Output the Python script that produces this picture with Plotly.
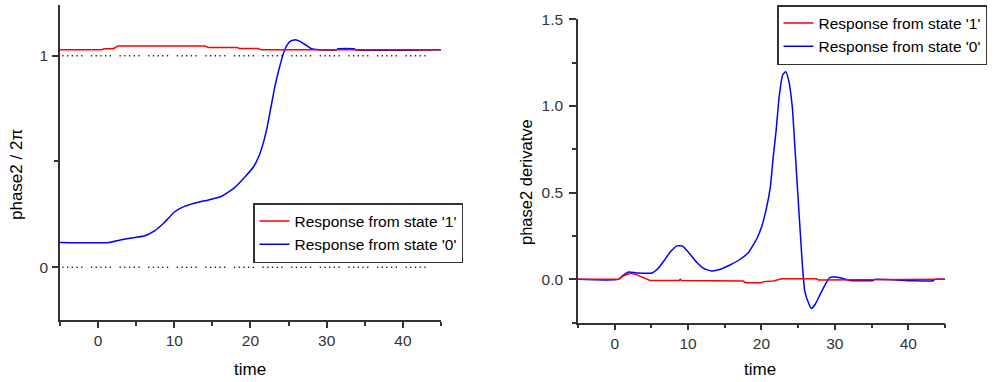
import plotly.graph_objects as go

# ---- data -------------------------------------------------------------
# phase2 / 2pi, response from state '1'
t_phase_1 = [-5, 0.4, 0.8, 2.0, 2.6, 14.0, 14.5, 18.2, 18.6, 21.0, 21.4, 45]
phase_1 = [1.028, 1.028, 1.033, 1.033, 1.046, 1.046, 1.039, 1.039, 1.034, 1.034, 1.028, 1.028]

# phase2 / 2pi, response from state '0'
t_phase_0 = [-5, 1.4, 3.9, 6.05, 7.4, 8.66, 10.05, 11.05, 12.6, 14.5, 16.06, 17.8,
             19.3, 20.4, 21.1, 21.7, 22.2, 22.7, 23.2, 23.7, 24.2, 24.7, 25.2,
             25.9, 26.5, 27.2, 28.0, 29.0, 31.3, 31.5, 33.6, 33.8, 45]
phase_0 = [0.117, 0.117, 0.136, 0.147, 0.171, 0.21, 0.262, 0.283, 0.302, 0.318, 0.333, 0.373,
           0.428, 0.475, 0.525, 0.59, 0.665, 0.76, 0.854, 0.93, 0.997, 1.044, 1.068,
           1.076, 1.068, 1.052, 1.033, 1.028, 1.028, 1.033, 1.033, 1.028, 1.028]

# reference levels (dotted) in the phase plot
ref_levels = [0, 1]
ref_span = [-4.7, 43.9]

# phase2 derivative, response from state '1'
t_deriv_1 = [-5, 0.5, 1.2, 2.1, 2.8, 3.8, 4.8, 8.8, 8.95, 9.1, 14.8, 15.0, 17.5, 17.8,
             20.0, 20.3, 21.6, 22.8, 27.5, 27.8, 29.0, 29.3, 45]
deriv_1 = [0, 0, 0.02, 0.035, 0.03, 0.012, -0.006, -0.006, 0.0, -0.006, -0.006, -0.01,
           -0.01, -0.019, -0.019, -0.013, -0.01, 0.003, 0.003, -0.004, -0.004, 0, 0]

# phase2 derivative, response from state '0'
t_deriv_0 = [-5, 0.5, 1.2, 1.9, 3.0, 5.1, 5.8, 6.7, 7.6, 8.5, 9.2, 10.1, 11.2, 12.1,
             13.2, 14.4, 15.7, 17.1, 18.2, 19.4, 20.0, 20.7, 21.2, 21.6, 22.0, 22.4,
             22.9, 23.3, 23.7, 24.2, 24.5, 24.9, 25.3, 25.6, 25.9, 26.4, 26.8, 27.3,
             28.0, 28.7, 29.3, 30.2, 31.2, 32.1, 35.2, 35.4, 40.5, 43.4, 43.6, 45]
deriv_0 = [0, 0, 0.025, 0.042, 0.037, 0.037, 0.058, 0.106, 0.16, 0.193, 0.193, 0.154,
           0.097, 0.064, 0.048, 0.058, 0.083, 0.116, 0.154, 0.237, 0.3, 0.415, 0.53,
           0.705, 0.86, 1.05, 1.18, 1.197, 1.149, 0.994, 0.80, 0.53, 0.26, 0.068,
           -0.068, -0.135, -0.168, -0.145, -0.087, -0.029, 0.01, 0.0135, 0.004, -0.006,
           -0.006, 0, -0.008, -0.008, 0, 0]

series_names = ["Response from state '1'", "Response from state '0'"]
series_colors = ["#ff0000", "#0000ff"]

# ---- figure -----------------------------------------------------------
FONT = "Arial, 'Liberation Sans', sans-serif"
AX = "#333333"

fig = go.Figure()

# left panel: phase2 / 2pi
for lvl in ref_levels:
    fig.add_trace(go.Scatter(
        x=ref_span, y=[lvl, lvl], mode="lines", showlegend=False, hoverinfo="skip",
        line=dict(color="#222222", width=1.5,
                  dash="1.3px,3.4px,1.3px,3.4px,1.3px,3.4px,1.3px,3.4px,1.3px,8.5px"),
        xaxis="x", yaxis="y"))

fig.add_trace(go.Scatter(
    x=t_phase_0, y=phase_0, mode="lines", name=series_names[1], legend="legend",
    legendrank=2, line=dict(color=series_colors[1], width=1.5, shape="spline",
                            smoothing=0.5),
    xaxis="x", yaxis="y"))
fig.add_trace(go.Scatter(
    x=t_phase_1, y=phase_1, mode="lines", name=series_names[0], legend="legend",
    legendrank=1, line=dict(color=series_colors[0], width=1.5),
    xaxis="x", yaxis="y"))

# right panel: phase2 derivative
fig.add_trace(go.Scatter(
    x=t_deriv_0, y=deriv_0, mode="lines", name=series_names[1], legend="legend2",
    legendrank=2, line=dict(color=series_colors[1], width=1.5, shape="spline",
                            smoothing=0.5),
    xaxis="x2", yaxis="y2"))
fig.add_trace(go.Scatter(
    x=t_deriv_1, y=deriv_1, mode="lines", name=series_names[0], legend="legend2",
    legendrank=1, line=dict(color=series_colors[0], width=1.5),
    xaxis="x2", yaxis="y2"))

common_axis = dict(
    showline=True, linecolor=AX, linewidth=1.5, showgrid=False, zeroline=False,
    ticks="outside", tickcolor=AX, tickwidth=1.5,
    tickfont=dict(family=FONT, size=15.5, color=AX),
)

legend_style = dict(xanchor="left", yanchor="top", bgcolor="white", bordercolor=AX,
                    borderwidth=1.5, font=dict(family=FONT, size=15.5, color="black"))

fig.update_layout(
    width=995, height=382,
    margin=dict(l=0, r=0, t=0, b=0, autoexpand=False),
    paper_bgcolor="white", plot_bgcolor="white",
    font=dict(family=FONT, size=15, color="black"),
    xaxis=dict(domain=[0.0603, 0.4432], range=[-5, 45], anchor="y",
               tick0=0, dtick=10, ticklen=6,
               minor=dict(dtick=5, tick0=0, ticks="outside", ticklen=4,
                          tickcolor=AX, tickwidth=1.5),
               **common_axis),
    yaxis=dict(domain=[0.1623, 0.9869], range=[-0.25, 1.24], anchor="x",
               tickmode="array", tickvals=[0, 1], ticktext=["0", "1"], ticklen=6,
               ticklabelstandoff=1,
               minor=dict(tickmode="array", tickvals=[0.5], ticks="outside",
                          ticklen=4, tickcolor=AX, tickwidth=1.5),
               **common_axis),
    xaxis2=dict(domain=[0.5809, 0.9497], range=[-5, 45], anchor="y2",
                tick0=0, dtick=10, ticklen=6,
                minor=dict(dtick=5, tick0=0, ticks="outside", ticklen=4,
                           tickcolor=AX, tickwidth=1.5),
                **common_axis),
    yaxis2=dict(domain=[0.1552, 0.9495], range=[-0.25, 1.5], anchor="x2",
                tick0=0, dtick=0.5, tickformat=".1f", ticklen=7,
                ticklabelstandoff=3,
                minor=dict(dtick=0.25, tick0=0, ticks="outside", ticklen=4,
                           tickcolor=AX, tickwidth=1.5),
                **common_axis),
    legend=dict(x=253 / 995, y=(382 - 203) / 382, **legend_style),
    legend2=dict(x=777 / 995, y=(382 - 5) / 382, **legend_style),
    showlegend=True,
)

# axis titles
title_font = dict(family=FONT, size=17, color="black")
titles = [
    ("time", 250, 369, 0, title_font),
    ("time", 760, 369, 0, title_font),
    ("phase2 / 2π", 17, 175, -90, title_font),
    ("phase2 derivatve", 526, 182, -90, dict(family=FONT, size=16.5, color="black")),
]
for text, px, py, ang, fnt in titles:
    fig.add_annotation(text=text, x=px / 995, y=(382 - py) / 382, xref="paper",
                       yref="paper", xanchor="center", yanchor="middle",
                       showarrow=False, textangle=ang, font=fnt)

fig.write_html("out.html")
